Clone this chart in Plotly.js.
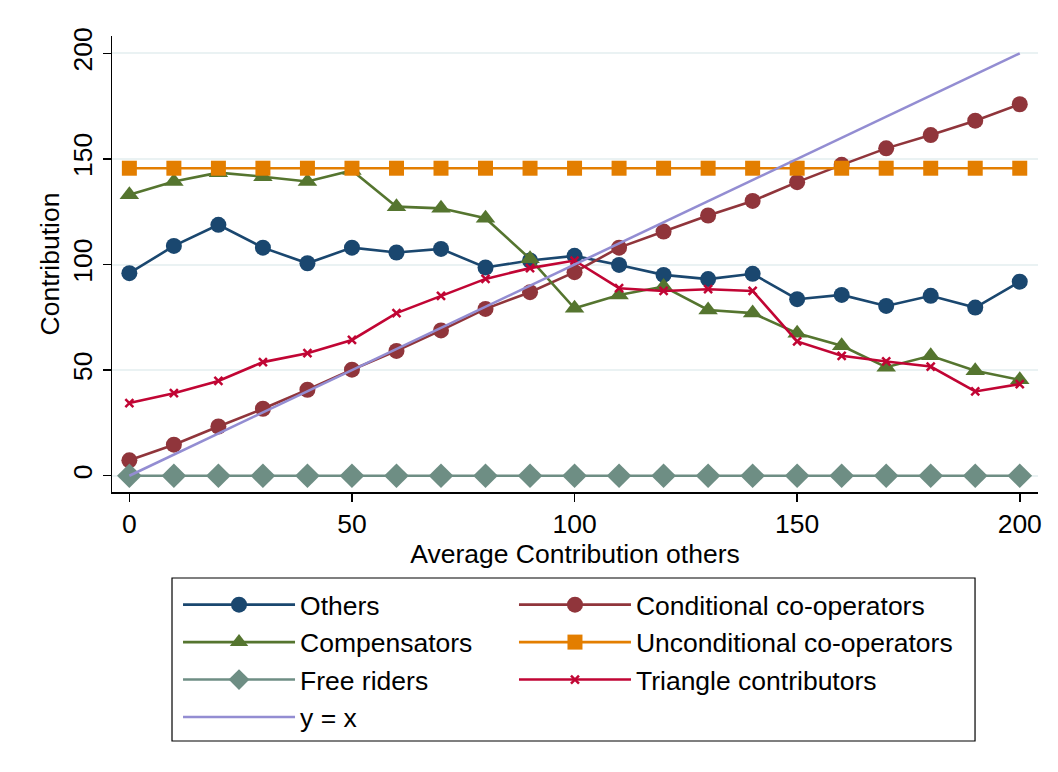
<!DOCTYPE html>
<html>
<head>
<meta charset="utf-8">
<script src="https://cdn.plot.ly/plotly-3.0.1.min.js"></script>
<style>html,body{margin:0;padding:0;background:#fff;}</style>
</head>
<body>
<div id="chart" style="width:1058px;height:772px;"></div>
<script>
const avgOthers = [0,10,20,30,40,50,60,70,80,90,100,110,120,130,140,150,160,170,180,190,200];
const others = [95.9,108.8,118.8,108,100.6,108,105.7,107.4,98.6,101.9,104.1,99.8,95.1,93.1,95.6,83.6,85.6,80.4,85.2,79.6,91.9];
const conditional = [7.3,14.7,23.3,31.7,40.7,50.2,59.1,68.8,79,86.9,96.4,108,115.6,123.2,130.1,139,147.2,155,161.3,168.1,175.9];
const compensators = [133,139.3,143.5,141.6,139.3,144.5,127.4,126.6,121.9,102.7,79.3,85.6,89.6,78.5,77,67.5,61.5,51.4,56.8,49.7,45.4];
const unconditional = [145.6,145.6,145.6,145.6,145.6,145.6,145.6,145.6,145.6,145.6,145.6,145.6,145.6,145.6,145.6,145.6,145.6,145.6,145.6,145.6,145.6];
const freeRiders = [0,0,0,0,0,0,0,0,0,0,0,0,0,0,0,0,0,0,0,0,0];
const triangle = [34.4,39.1,44.9,53.8,58,64.3,77,85.2,93.2,98.3,101.9,88.8,87.5,88.3,87.5,63.6,56.8,54.1,51.7,39.9,43.4];
const diagX = [0,200];
const diagY = [0,200];

const lw = 2.6;
const traces = [
  {name:'Others', legend:'legend', x:avgOthers, y:others, mode:'lines+markers',
   line:{color:'#1a476f', width:lw}, marker:{symbol:'circle', size:16, color:'#1a476f'}},
  {name:'Conditional co-operators', legend:'legend2', x:avgOthers, y:conditional, mode:'lines+markers',
   line:{color:'#90353b', width:lw}, marker:{symbol:'circle', size:16, color:'#90353b'}},
  {name:'Compensators', legend:'legend', x:avgOthers, y:compensators, mode:'lines+markers',
   line:{color:'#55752f', width:lw}, marker:{symbol:'triangle-up', size:17, color:'#55752f'}},
  {name:'Unconditional co-operators', legend:'legend2', x:avgOthers, y:unconditional, mode:'lines+markers',
   line:{color:'#e37e00', width:lw}, marker:{symbol:'square', size:15, color:'#e37e00'}},
  {name:'Free riders', legend:'legend', x:avgOthers, y:freeRiders, mode:'lines+markers',
   line:{color:'#6e8e84', width:lw}, marker:{symbol:'diamond', size:19, color:'#6e8e84'}},
  {name:'Triangle contributors', legend:'legend2', x:avgOthers, y:triangle, mode:'lines+markers',
   line:{color:'#c10534', width:lw}, marker:{symbol:'x-thin', size:8, color:'#c10534', line:{color:'#c10534', width:2.5}}},
  {name:'y = x', legend:'legend', x:diagX, y:diagY, mode:'lines',
   line:{color:'#938dd2', width:lw}}
];

const fontFam = 'Arial, "Liberation Sans", sans-serif';
const fs = 26.5;
const legendCommon = {
  orientation:'v', xanchor:'left', yanchor:'top',
  borderwidth:0, bgcolor:'rgba(0,0,0,0)',
  font:{size:fs, family:fontFam, color:'#000'},
  itemwidth:112, traceorder:'normal'
};
const layout = {
  width:1058, height:772,
  paper_bgcolor:'#ffffff', plot_bgcolor:'#ffffff',
  margin:{l:112, r:20, t:36, b:280},
  font:{family:fontFam, size:fs, color:'#000'},
  xaxis:{
    range:[-3.9, 204.1], tickvals:[0,50,100,150,200], ticktext:['0','50','100','150','200'],
    showgrid:false, zeroline:false, showline:true, linecolor:'#000', linewidth:1.5,
    ticks:'outside', ticklen:8, tickwidth:1.5, tickcolor:'#000',
    tickfont:{size:fs, family:fontFam},
    title:{text:'Average Contribution others', font:{size:fs, family:fontFam}, standoff:0}
  },
  yaxis:{
    range:[-7.7, 208.2], tickvals:[0,50,100,150,200], ticktext:['0','50','100','150','200'],
    tickangle:-90,
    showgrid:true, gridcolor:'#eaf2f3', gridwidth:2, zeroline:false,
    showline:true, linecolor:'#000', linewidth:1.5,
    ticks:'outside', ticklen:8, tickwidth:1.5, tickcolor:'#000',
    tickfont:{size:fs, family:fontFam},
    title:{text:'Contribution', font:{size:fs, family:fontFam}, standoff:0}
  },
  showlegend:true,
  legend:Object.assign({}, legendCommon, {x:0.0713, y:-0.195}),
  legend2:Object.assign({}, legendCommon, {x:0.4341, y:-0.195}),
  shapes:[
    {type:'rect', xref:'paper', yref:'paper', x0:0.0648, x1:0.9320, y0:-0.1886, y1:-0.5461,
     line:{color:'#000', width:1.2}, fillcolor:'rgba(0,0,0,0)', layer:'below'}
  ]
};

Plotly.newPlot('chart', traces, layout, {displayModeBar:false, staticPlot:true});
</script>
</body>
</html>
